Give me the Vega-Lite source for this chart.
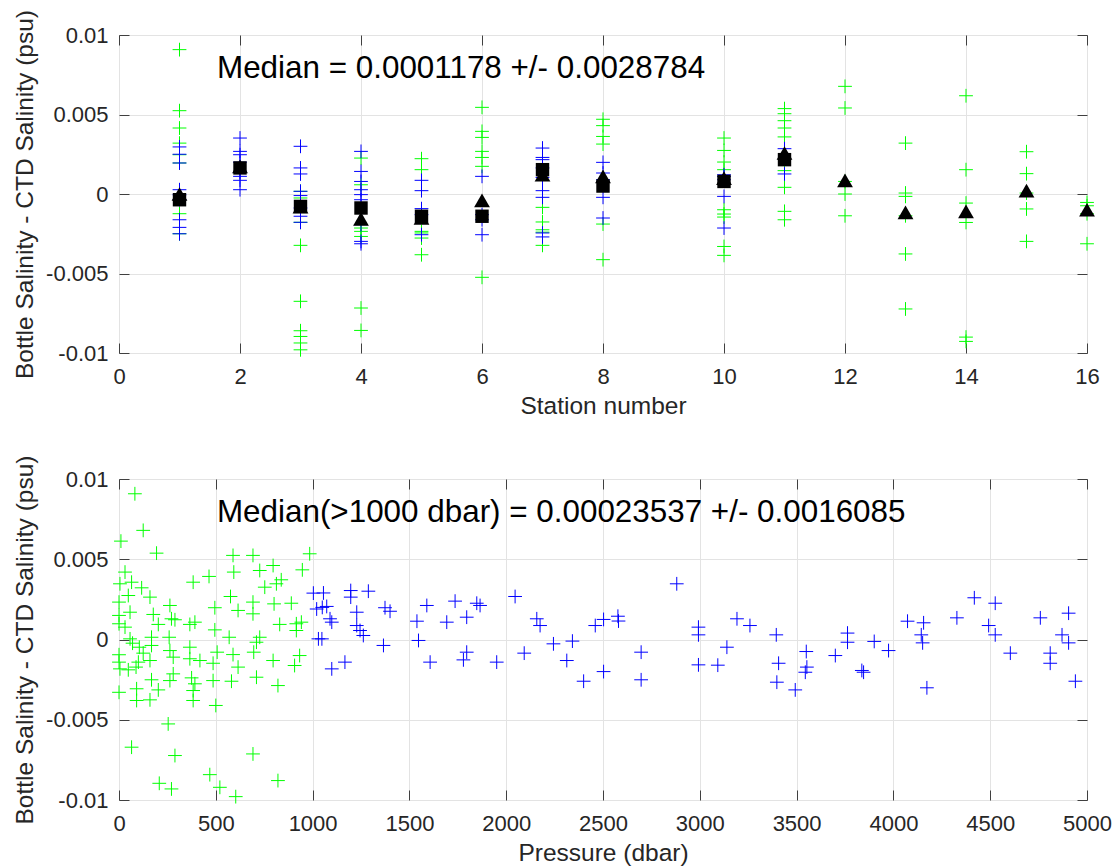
{
  "$schema": "https://vega.github.io/schema/vega-lite/v6.json",
  "background": "white",
  "padding": {"left": 12, "top": 9, "right": 10, "bottom": 2},
  "bounds": "flush",
  "spacing": 126,
  "config": {
    "font": "Liberation Sans",
    "view": {"stroke": "#404040", "strokeWidth": 1},
    "axis": {
      "labelFont": "Liberation Sans", "labelFontSize": 22, "labelColor": "#262626",
      "titleFont": "Liberation Sans", "titleFontSize": 24.5, "titleFontWeight": "normal", "titleColor": "#262626",
      "gridColor": "#e3e3e3", "gridWidth": 1, "domain": false,
      "tickColor": "#404040", "tickSize": -10, "labelFlush": false, "labelOverlap": false
    }
  },
  "datasets": {
    "stations": [
      {"station":1,"diff":0.00908,"group":"shallow"},{"station":1,"diff":0.00524,"group":"shallow"},{"station":1,"diff":0.00415,"group":"shallow"},{"station":1,"diff":0.0032,"group":"shallow"},{"station":1,"diff":0.00247,"group":"shallow"},{"station":1,"diff":0.00195,"group":"shallow"},{"station":1,"diff":-0.00124,"group":"shallow"},{"station":1,"diff":-0.0025,"group":"shallow"},
      {"station":3,"diff":0.00017,"group":"shallow"},{"station":3,"diff":-0.00025,"group":"shallow"},{"station":3,"diff":-0.00178,"group":"shallow"},{"station":3,"diff":-0.00323,"group":"shallow"},{"station":3,"diff":-0.00675,"group":"shallow"},{"station":3,"diff":-0.0086,"group":"shallow"},{"station":3,"diff":-0.00896,"group":"shallow"},{"station":3,"diff":-0.00937,"group":"shallow"},{"station":3,"diff":-0.0098,"group":"shallow"},
      {"station":4,"diff":0.00226,"group":"shallow"},{"station":4,"diff":0.00058,"group":"shallow"},{"station":4,"diff":-0.00214,"group":"shallow"},{"station":4,"diff":-0.00235,"group":"shallow"},{"station":4,"diff":-0.00267,"group":"shallow"},{"station":4,"diff":-0.00717,"group":"shallow"},{"station":4,"diff":-0.00858,"group":"shallow"},
      {"station":5,"diff":0.00222,"group":"shallow"},{"station":5,"diff":0.00153,"group":"shallow"},{"station":5,"diff":-0.00235,"group":"shallow"},{"station":5,"diff":-0.00245,"group":"shallow"},{"station":5,"diff":-0.00277,"group":"shallow"},{"station":5,"diff":-0.00382,"group":"shallow"},
      {"station":6,"diff":0.00545,"group":"shallow"},{"station":6,"diff":0.00394,"group":"shallow"},{"station":6,"diff":0.00356,"group":"shallow"},{"station":6,"diff":0.00268,"group":"shallow"},{"station":6,"diff":0.0023,"group":"shallow"},{"station":6,"diff":0.00174,"group":"shallow"},{"station":6,"diff":-0.00524,"group":"shallow"},
      {"station":7,"diff":-0.00084,"group":"shallow"},{"station":7,"diff":-0.00176,"group":"shallow"},{"station":7,"diff":-0.00225,"group":"shallow"},{"station":7,"diff":-0.0024,"group":"shallow"},{"station":7,"diff":-0.00323,"group":"shallow"},
      {"station":8,"diff":0.0047,"group":"shallow"},{"station":8,"diff":0.0043,"group":"shallow"},{"station":8,"diff":0.00362,"group":"shallow"},{"station":8,"diff":0.00314,"group":"shallow"},{"station":8,"diff":-0.00189,"group":"shallow"},{"station":8,"diff":-0.00413,"group":"shallow"},
      {"station":10,"diff":0.00352,"group":"shallow"},{"station":10,"diff":0.00274,"group":"shallow"},{"station":10,"diff":0.00201,"group":"shallow"},{"station":10,"diff":0.00153,"group":"shallow"},{"station":10,"diff":-0.00099,"group":"shallow"},{"station":10,"diff":-0.00126,"group":"shallow"},{"station":10,"diff":-0.00145,"group":"shallow"},{"station":10,"diff":-0.0033,"group":"shallow"},{"station":10,"diff":-0.00386,"group":"shallow"},
      {"station":11,"diff":0.00537,"group":"shallow"},{"station":11,"diff":0.00505,"group":"shallow"},{"station":11,"diff":0.00461,"group":"shallow"},{"station":11,"diff":0.00415,"group":"shallow"},{"station":11,"diff":0.00359,"group":"shallow"},{"station":11,"diff":0.00147,"group":"shallow"},{"station":11,"diff":0.00042,"group":"shallow"},{"station":11,"diff":-0.00109,"group":"shallow"},{"station":11,"diff":-0.00162,"group":"shallow"},
      {"station":12,"diff":0.00677,"group":"shallow"},{"station":12,"diff":0.00541,"group":"shallow"},{"station":12,"diff":0.00079,"group":"shallow"},{"station":12,"diff":0.0,"group":"shallow"},{"station":12,"diff":-0.00137,"group":"shallow"},
      {"station":13,"diff":0.0032,"group":"shallow"},{"station":13,"diff":0.00006,"group":"shallow"},{"station":13,"diff":-0.00015,"group":"shallow"},{"station":13,"diff":-0.00137,"group":"shallow"},{"station":13,"diff":-0.00377,"group":"shallow"},{"station":13,"diff":-0.00723,"group":"shallow"},
      {"station":14,"diff":0.00618,"group":"shallow"},{"station":14,"diff":0.00153,"group":"shallow"},{"station":14,"diff":-0.00057,"group":"shallow"},{"station":14,"diff":-0.00179,"group":"shallow"},{"station":14,"diff":-0.009,"group":"shallow"},{"station":14,"diff":-0.00927,"group":"shallow"},
      {"station":15,"diff":0.00266,"group":"shallow"},{"station":15,"diff":0.00128,"group":"shallow"},{"station":15,"diff":0.00006,"group":"shallow"},{"station":15,"diff":-0.00094,"group":"shallow"},{"station":15,"diff":-0.00298,"group":"shallow"},
      {"station":16,"diff":-0.00053,"group":"shallow"},{"station":16,"diff":-0.00074,"group":"shallow"},{"station":16,"diff":-0.00124,"group":"shallow"},{"station":16,"diff":-0.00313,"group":"shallow"},
      {"station":1,"diff":0.00296,"group":"deep"},{"station":1,"diff":0.0025,"group":"deep"},{"station":1,"diff":0.00195,"group":"deep"},{"station":1,"diff":0.00027,"group":"deep"},{"station":1,"diff":-0.00005,"group":"deep"},{"station":1,"diff":-0.00036,"group":"deep"},{"station":1,"diff":-0.00162,"group":"deep"},{"station":1,"diff":-0.0021,"group":"deep"},{"station":1,"diff":-0.0025,"group":"deep"},
      {"station":2,"diff":0.00352,"group":"deep"},{"station":2,"diff":0.00268,"group":"deep"},{"station":2,"diff":0.00247,"group":"deep"},{"station":2,"diff":0.002,"group":"deep"},{"station":2,"diff":0.00138,"group":"deep"},{"station":2,"diff":0.00111,"group":"deep"},{"station":2,"diff":0.00086,"group":"deep"},{"station":2,"diff":0.00027,"group":"deep"},
      {"station":3,"diff":0.003,"group":"deep"},{"station":3,"diff":0.00164,"group":"deep"},{"station":3,"diff":0.00126,"group":"deep"},{"station":3,"diff":0.00017,"group":"deep"},{"station":3,"diff":-0.0001,"group":"deep"},{"station":3,"diff":-0.00088,"group":"deep"},{"station":3,"diff":-0.0014,"group":"deep"},{"station":3,"diff":-0.00178,"group":"deep"},
      {"station":4,"diff":0.00268,"group":"deep"},{"station":4,"diff":0.00142,"group":"deep"},{"station":4,"diff":0.00079,"group":"deep"},{"station":4,"diff":0.00027,"group":"deep"},{"station":4,"diff":-0.00004,"group":"deep"},{"station":4,"diff":-0.00036,"group":"deep"},{"station":4,"diff":-0.00193,"group":"deep"},{"station":4,"diff":-0.00298,"group":"deep"},{"station":4,"diff":-0.00313,"group":"deep"},
      {"station":5,"diff":0.00086,"group":"deep"},{"station":5,"diff":0.00021,"group":"deep"},{"station":5,"diff":-0.00092,"group":"deep"},{"station":5,"diff":-0.0013,"group":"deep"},{"station":5,"diff":-0.00256,"group":"deep"},
      {"station":6,"diff":0.00111,"group":"deep"},{"station":6,"diff":-0.0013,"group":"deep"},{"station":6,"diff":-0.00162,"group":"deep"},{"station":6,"diff":-0.00256,"group":"deep"},
      {"station":7,"diff":0.00289,"group":"deep"},{"station":7,"diff":0.0023,"group":"deep"},{"station":7,"diff":0.00216,"group":"deep"},{"station":7,"diff":0.00164,"group":"deep"},{"station":7,"diff":0.00104,"group":"deep"},{"station":7,"diff":0.00021,"group":"deep"},{"station":7,"diff":-0.00021,"group":"deep"},{"station":7,"diff":-0.00245,"group":"deep"},{"station":7,"diff":-0.0027,"group":"deep"},
      {"station":8,"diff":0.00199,"group":"deep"},{"station":8,"diff":0.00132,"group":"deep"},{"station":8,"diff":0.0009,"group":"deep"},{"station":8,"diff":0.00075,"group":"deep"},{"station":8,"diff":-0.00021,"group":"deep"},{"station":8,"diff":-0.00151,"group":"deep"},
      {"station":10,"diff":0.00121,"group":"deep"},{"station":10,"diff":0.0011,"group":"deep"},{"station":10,"diff":0.0009,"group":"deep"},{"station":10,"diff":-0.00015,"group":"deep"},{"station":10,"diff":-0.00214,"group":"deep"},
      {"station":11,"diff":0.00285,"group":"deep"},{"station":11,"diff":0.00126,"group":"deep"}
    ],
    "squares": [
      {"station":1,"diff":-0.00036},{"station":2,"diff":0.00164},{"station":3,"diff":-0.00078},{"station":4,"diff":-0.00088},{"station":5,"diff":-0.0014},{"station":6,"diff":-0.0014},{"station":7,"diff":0.00153},{"station":8,"diff":0.0005},{"station":10,"diff":0.00079},{"station":11,"diff":0.00216}
    ],
    "triangles": [
      {"station":1,"diff":0.0},{"station":2,"diff":0.00174},{"station":3,"diff":-0.0008},{"station":4,"diff":-0.00157},{"station":5,"diff":-0.0015},{"station":6,"diff":-0.0004},{"station":7,"diff":0.00121},{"station":8,"diff":0.00111},{"station":10,"diff":0.001},{"station":11,"diff":0.00258},{"station":12,"diff":0.00086},{"station":13,"diff":-0.00116},{"station":14,"diff":-0.00109},{"station":15,"diff":0.00021},{"station":16,"diff":-0.00099}
    ],
    "pressure": [
      {"p":82,"diff":0.00908,"group":"shallow"},{"p":125,"diff":0.0068,"group":"shallow"},{"p":10,"diff":0.00613,"group":"shallow"},{"p":194,"diff":0.00538,"group":"shallow"},{"p":589,"diff":0.00524,"group":"shallow"},{"p":692,"diff":0.00524,"group":"shallow"},{"p":985,"diff":0.00534,"group":"shallow"},{"p":31,"diff":0.0042,"group":"shallow"},{"p":796,"diff":0.00461,"group":"shallow"},{"p":727,"diff":0.0043,"group":"shallow"},{"p":947,"diff":0.00434,"group":"shallow"},{"p":593,"diff":0.0042,"group":"shallow"},{"p":465,"diff":0.00393,"group":"shallow"},{"p":383,"diff":0.00357,"group":"shallow"},{"p":838,"diff":0.00372,"group":"shallow"},{"p":813,"diff":0.00347,"group":"shallow"},{"p":753,"diff":0.00326,"group":"shallow"},{"p":5,"diff":0.00347,"group":"shallow"},{"p":65,"diff":0.00357,"group":"shallow"},{"p":117,"diff":0.00322,"group":"shallow"},{"p":48,"diff":0.00274,"group":"shallow"},{"p":160,"diff":0.00264,"group":"shallow"},{"p":576,"diff":0.00268,"group":"shallow"},{"p":0,"diff":0.00233,"group":"shallow"},{"p":263,"diff":0.00212,"group":"shallow"},{"p":495,"diff":0.00198,"group":"shallow"},{"p":615,"diff":0.00181,"group":"shallow"},{"p":692,"diff":0.00233,"group":"shallow"},{"p":692,"diff":0.0016,"group":"shallow"},{"p":801,"diff":0.00222,"group":"shallow"},{"p":890,"diff":0.00226,"group":"shallow"},{"p":57,"diff":0.0017,"group":"shallow"},{"p":0,"diff":0.0015,"group":"shallow"},{"p":177,"diff":0.00156,"group":"shallow"},{"p":271,"diff":0.00129,"group":"shallow"},{"p":289,"diff":0.00123,"group":"shallow"},{"p":203,"diff":0.00094,"group":"shallow"},{"p":366,"diff":0.00094,"group":"shallow"},{"p":392,"diff":0.00108,"group":"shallow"},{"p":495,"diff":0.0006,"group":"shallow"},{"p":0,"diff":0.00098,"group":"shallow"},{"p":31,"diff":0.00077,"group":"shallow"},{"p":830,"diff":0.00094,"group":"shallow"},{"p":916,"diff":0.00098,"group":"shallow"},{"p":942,"diff":0.00108,"group":"shallow"},{"p":916,"diff":0.00056,"group":"shallow"},{"p":57,"diff":0.00004,"group":"shallow"},{"p":168,"diff":0.00014,"group":"shallow"},{"p":259,"diff":0.00014,"group":"shallow"},{"p":569,"diff":0.00014,"group":"shallow"},{"p":727,"diff":0.00014,"group":"shallow"},{"p":710,"diff":-0.00017,"group":"shallow"},{"p":70,"diff":-0.00023,"group":"shallow"},{"p":105,"diff":-0.00048,"group":"shallow"},{"p":168,"diff":-0.00037,"group":"shallow"},{"p":366,"diff":-0.00048,"group":"shallow"},{"p":263,"diff":-0.00069,"group":"shallow"},{"p":507,"diff":-0.00079,"group":"shallow"},{"p":696,"diff":-0.00079,"group":"shallow"},{"p":589,"diff":-0.00094,"group":"shallow"},{"p":0,"diff":-0.00095,"group":"shallow"},{"p":125,"diff":-0.00085,"group":"shallow"},{"p":933,"diff":-0.001,"group":"shallow"},{"p":280,"diff":-0.0011,"group":"shallow"},{"p":366,"diff":-0.0012,"group":"shallow"},{"p":418,"diff":-0.00131,"group":"shallow"},{"p":160,"diff":-0.00131,"group":"shallow"},{"p":796,"diff":-0.00131,"group":"shallow"},{"p":0,"diff":-0.00141,"group":"shallow"},{"p":100,"diff":-0.00141,"group":"shallow"},{"p":486,"diff":-0.00148,"group":"shallow"},{"p":907,"diff":-0.00162,"group":"shallow"},{"p":615,"diff":-0.00172,"group":"shallow"},{"p":5,"diff":-0.00183,"group":"shallow"},{"p":48,"diff":-0.00189,"group":"shallow"},{"p":88,"diff":-0.00172,"group":"shallow"},{"p":280,"diff":-0.00214,"group":"shallow"},{"p":375,"diff":-0.00239,"group":"shallow"},{"p":168,"diff":-0.00251,"group":"shallow"},{"p":486,"diff":-0.00256,"group":"shallow"},{"p":581,"diff":-0.0026,"group":"shallow"},{"p":710,"diff":-0.00235,"group":"shallow"},{"p":263,"diff":-0.00256,"group":"shallow"},{"p":392,"diff":-0.00276,"group":"shallow"},{"p":821,"diff":-0.00287,"group":"shallow"},{"p":203,"diff":-0.00314,"group":"shallow"},{"p":91,"diff":-0.00307,"group":"shallow"},{"p":0,"diff":-0.00329,"group":"shallow"},{"p":383,"diff":-0.00318,"group":"shallow"},{"p":160,"diff":-0.00376,"group":"shallow"},{"p":91,"diff":-0.0038,"group":"shallow"},{"p":383,"diff":-0.0038,"group":"shallow"},{"p":500,"diff":-0.00411,"group":"shallow"},{"p":254,"diff":-0.00526,"group":"shallow"},{"p":65,"diff":-0.00671,"group":"shallow"},{"p":692,"diff":-0.00713,"group":"shallow"},{"p":289,"diff":-0.00723,"group":"shallow"},{"p":469,"diff":-0.00842,"group":"shallow"},{"p":821,"diff":-0.00879,"group":"shallow"},{"p":208,"diff":-0.00896,"group":"shallow"},{"p":271,"diff":-0.00931,"group":"shallow"},{"p":521,"diff":-0.00921,"group":"shallow"},{"p":603,"diff":-0.00979,"group":"shallow"},
      {"p":1004,"diff":0.00289,"group":"deep"},{"p":1056,"diff":0.0029,"group":"deep"},{"p":1021,"diff":0.0019,"group":"deep"},{"p":1050,"diff":0.002,"group":"deep"},{"p":1073,"diff":0.00206,"group":"deep"},{"p":1090,"diff":0.00129,"group":"deep"},{"p":1099,"diff":0.00108,"group":"deep"},{"p":1030,"diff":0.00004,"group":"deep"},{"p":1048,"diff":0.00004,"group":"deep"},{"p":1099,"diff":-0.00183,"group":"deep"},{"p":1167,"diff":-0.00141,"group":"deep"},
      {"p":1197,"diff":0.00305,"group":"deep"},{"p":1197,"diff":0.00264,"group":"deep"},{"p":1288,"diff":0.00301,"group":"deep"},{"p":1228,"diff":0.0017,"group":"deep"},{"p":1228,"diff":0.00087,"group":"deep"},{"p":1245,"diff":0.00056,"group":"deep"},{"p":1262,"diff":0.00025,"group":"deep"},{"p":1366,"diff":-0.00037,"group":"deep"},{"p":1374,"diff":0.00198,"group":"deep"},{"p":1400,"diff":0.00176,"group":"deep"},{"p":1539,"diff":0.00114,"group":"deep"},{"p":1547,"diff":-0.00006,"group":"deep"},{"p":1590,"diff":0.00212,"group":"deep"},{"p":1607,"diff":-0.00141,"group":"deep"},{"p":1693,"diff":0.00108,"group":"deep"},{"p":1736,"diff":0.00239,"group":"deep"},{"p":1796,"diff":0.00139,"group":"deep"},{"p":1796,"diff":-0.00079,"group":"deep"},{"p":1779,"diff":-0.00127,"group":"deep"},{"p":1848,"diff":0.00226,"group":"deep"},{"p":1865,"diff":0.00212,"group":"deep"},{"p":1951,"diff":-0.00141,"group":"deep"},{"p":2046,"diff":0.00268,"group":"deep"},{"p":2093,"diff":-0.00085,"group":"deep"},{"p":2158,"diff":0.00129,"group":"deep"},{"p":2175,"diff":0.00087,"group":"deep"},{"p":2244,"diff":-0.00027,"group":"deep"},{"p":2313,"diff":-0.00131,"group":"deep"},{"p":2342,"diff":-0.0001,"group":"deep"},{"p":2400,"diff":-0.0026,"group":"deep"},{"p":2460,"diff":0.00087,"group":"deep"},{"p":2503,"diff":0.00125,"group":"deep"},{"p":2503,"diff":-0.002,"group":"deep"},{"p":2577,"diff":0.00145,"group":"deep"},{"p":2580,"diff":0.00115,"group":"deep"},{"p":2697,"diff":-0.00079,"group":"deep"},{"p":2697,"diff":-0.00251,"group":"deep"},{"p":2881,"diff":0.00347,"group":"deep"},{"p":2993,"diff":0.00077,"group":"deep"},{"p":2993,"diff":0.00029,"group":"deep"},{"p":2993,"diff":-0.00158,"group":"deep"},{"p":3093,"diff":-0.00160,"group":"deep"},
      {"p":3140,"diff":-0.00048,"group":"deep"},{"p":3192,"diff":0.00129,"group":"deep"},{"p":3259,"diff":0.00087,"group":"deep"},{"p":3395,"diff":0.00029,"group":"deep"},{"p":3407,"diff":-0.00148,"group":"deep"},{"p":3398,"diff":-0.00266,"group":"deep"},{"p":3493,"diff":-0.00314,"group":"deep"},{"p":3550,"diff":-0.00075,"group":"deep"},{"p":3553,"diff":-0.00172,"group":"deep"},{"p":3545,"diff":-0.00204,"group":"deep"},{"p":3700,"diff":-0.001,"group":"deep"},{"p":3763,"diff":0.0004,"group":"deep"},{"p":3763,"diff":-0.00017,"group":"deep"},{"p":3837,"diff":-0.00193,"group":"deep"},{"p":3846,"diff":-0.00204,"group":"deep"},{"p":3901,"diff":-0.00012,"group":"deep"},{"p":3975,"diff":-0.00069,"group":"deep"},{"p":4073,"diff":0.00114,"group":"deep"},{"p":4156,"diff":0.00104,"group":"deep"},{"p":4144,"diff":0.00029,"group":"deep"},{"p":4151,"diff":-0.00021,"group":"deep"},{"p":4173,"diff":-0.00301,"group":"deep"},{"p":4328,"diff":0.00135,"group":"deep"},{"p":4418,"diff":0.0026,"group":"deep"},{"p":4526,"diff":0.00226,"group":"deep"},{"p":4492,"diff":0.00087,"group":"deep"},{"p":4526,"diff":0.00029,"group":"deep"},{"p":4604,"diff":-0.00085,"group":"deep"},{"p":4759,"diff":0.00135,"group":"deep"},{"p":4810,"diff":-0.00085,"group":"deep"},{"p":4810,"diff":-0.00148,"group":"deep"},{"p":4871,"diff":0.00029,"group":"deep"},{"p":4905,"diff":0.00164,"group":"deep"},{"p":4905,"diff":-0.00021,"group":"deep"},{"p":4940,"diff":-0.0026,"group":"deep"}
    ]
  },
  "vconcat": [
    {
      "width": 968,
      "height": 318,
      "resolve": {"axis": {"x": "independent", "y": "independent"}},
      "layer": [
        {
          "data": {"name": "stations"},
          "mark": {"type": "point", "shape": "M-1,0H1M0,-1V1", "filled": false, "size": 190, "strokeWidth": 1, "opacity": 1, "clip": false},
          "encoding": {
            "x": {"field": "station", "type": "quantitative", "scale": {"domain": [0, 16], "nice": false, "zero": false},
                  "axis": {"title": "Station number", "values": [0, 2, 4, 6, 8, 10, 12, 14, 16], "labelPadding": 23, "titlePadding": 7, "labelExpr": "toString(datum.value)"}},
            "y": {"field": "diff", "type": "quantitative", "scale": {"domain": [-0.01, 0.01], "nice": false, "zero": false},
                  "axis": {"title": "Bottle Salinity - CTD Salinity (psu)", "values": [-0.01, -0.005, 0, 0.005, 0.01], "labelPadding": 21, "titlePadding": 8, "labelExpr": "toString(datum.value)"}},
            "color": {"field": "group", "type": "nominal", "scale": {"domain": ["shallow", "deep"], "range": ["#00ff00", "#0000ff"]}, "legend": null}
          }
        },
        {
          "data": {"name": "squares"},
          "mark": {"type": "point", "shape": "square", "filled": true, "color": "black", "opacity": 1, "size": 180, "clip": false},
          "encoding": {
            "x": {"field": "station", "type": "quantitative", "axis": null},
            "y": {"field": "diff", "type": "quantitative", "axis": null}
          }
        },
        {
          "data": {"name": "triangles"},
          "mark": {"type": "point", "shape": "triangle-up", "filled": true, "color": "black", "opacity": 1, "size": 250, "clip": false},
          "encoding": {
            "x": {"field": "station", "type": "quantitative", "axis": null},
            "y": {"field": "diff", "type": "quantitative", "axis": null}
          }
        },
        {
          "data": {"values": [{}]},
          "mark": {"type": "text", "font": "Liberation Sans", "fontSize": 31.4, "align": "left", "baseline": "alphabetic", "color": "black"},
          "encoding": {
            "x": {"datum": 1.62, "type": "quantitative", "axis": {"orient": "top", "labels": false, "title": null, "grid": false, "values": [0, 2, 4, 6, 8, 10, 12, 14, 16]}},
            "y": {"datum": 0.0073, "type": "quantitative", "axis": {"orient": "right", "labels": false, "title": null, "grid": false, "values": [-0.01, -0.005, 0, 0.005, 0.01]}},
            "text": {"value": "Median = 0.0001178 +/- 0.0028784"}
          }
        }
      ]
    },
    {
      "width": 968,
      "height": 321,
      "resolve": {"axis": {"x": "independent", "y": "independent"}},
      "layer": [
        {
          "data": {"name": "pressure"},
          "mark": {"type": "point", "shape": "M-1,0H1M0,-1V1", "filled": false, "size": 190, "strokeWidth": 1, "opacity": 1, "clip": false},
          "encoding": {
            "x": {"field": "p", "type": "quantitative", "scale": {"domain": [0, 5000], "nice": false, "zero": false},
                  "axis": {"title": "Pressure (dbar)", "values": [0, 500, 1000, 1500, 2000, 2500, 3000, 3500, 4000, 4500, 5000], "labelPadding": 23, "titlePadding": 7, "labelExpr": "toString(datum.value)"}},
            "y": {"field": "diff", "type": "quantitative", "scale": {"domain": [-0.01, 0.01], "nice": false, "zero": false},
                  "axis": {"title": "Bottle Salinity - CTD Salinity (psu)", "values": [-0.01, -0.005, 0, 0.005, 0.01], "labelPadding": 21, "titlePadding": 8, "labelExpr": "toString(datum.value)"}},
            "color": {"field": "group", "type": "nominal", "scale": {"domain": ["shallow", "deep"], "range": ["#00ff00", "#0000ff"]}, "legend": null}
          }
        },
        {
          "data": {"values": [{}]},
          "mark": {"type": "text", "font": "Liberation Sans", "fontSize": 31.4, "align": "left", "baseline": "alphabetic", "color": "black"},
          "encoding": {
            "x": {"datum": 506, "type": "quantitative", "axis": {"orient": "top", "labels": false, "title": null, "grid": false, "values": [0, 500, 1000, 1500, 2000, 2500, 3000, 3500, 4000, 4500, 5000]}},
            "y": {"datum": 0.00731, "type": "quantitative", "axis": {"orient": "right", "labels": false, "title": null, "grid": false, "values": [-0.01, -0.005, 0, 0.005, 0.01]}},
            "text": {"value": "Median(>1000 dbar) = 0.00023537 +/- 0.0016085"}
          }
        }
      ]
    }
  ]
}
